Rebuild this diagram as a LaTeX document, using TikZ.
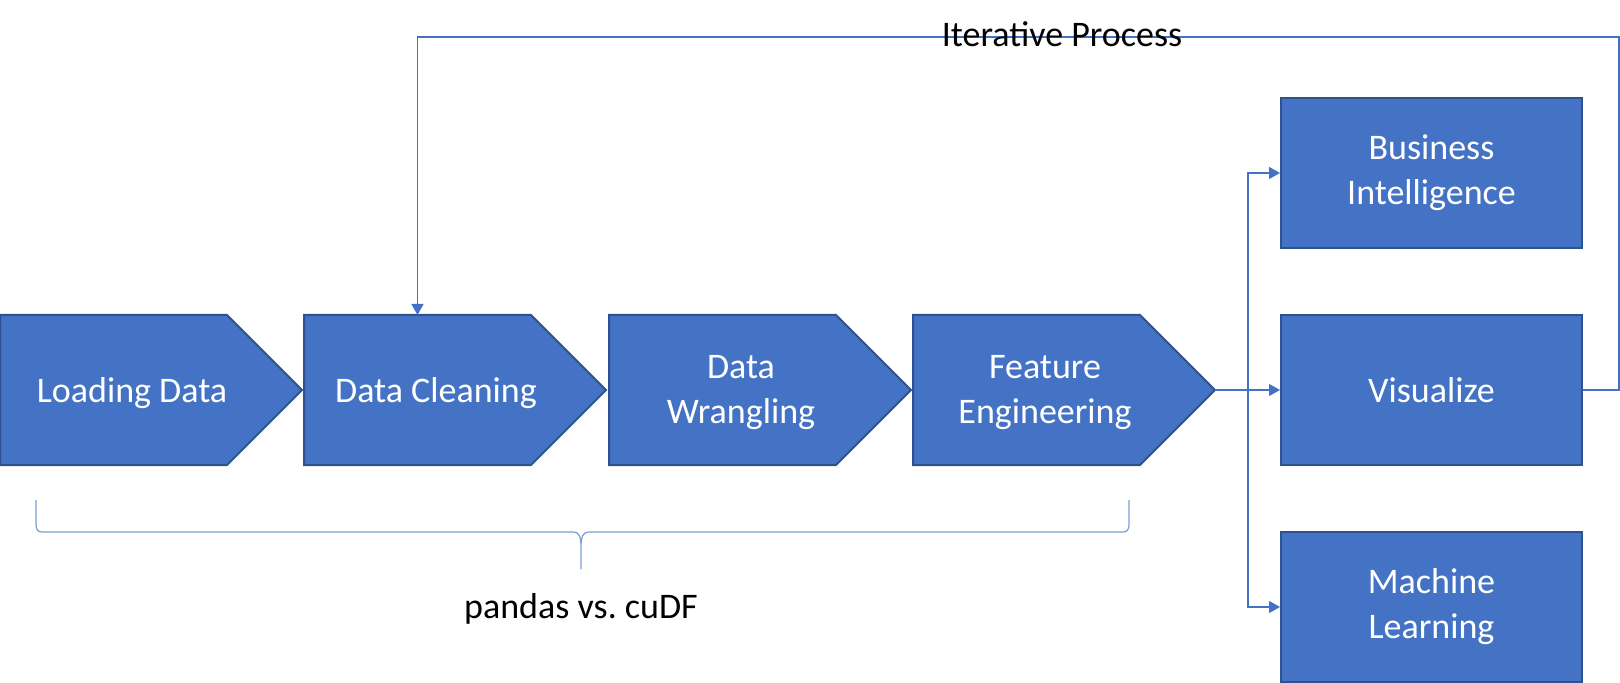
\documentclass[tikz,border=0pt]{standalone}
\usepackage{fontspec}
\setmainfont{Carlito}
\usepackage{xcolor}
\usepackage{tikz}
\usetikzlibrary{arrows.meta}
\definecolor{boxblue}{HTML}{4472C4}
\definecolor{edgeblue}{HTML}{2F528F}

\begin{document}
\begin{tikzpicture}[x=0.5pt,y=-0.5pt,
  stage/.style={fill=boxblue,draw=edgeblue,line width=1pt},
  stagetext/.style={text=white,align=center,font=\fontsize{18}{22.5}\selectfont},
  result/.style={stage,stagetext,minimum width=150.5pt,minimum height=75pt,inner sep=0pt},
  flow/.style={draw=boxblue,line width=0.6pt,-{Triangle[length=5.5pt,width=6pt]}},
  braceline/.style={draw=boxblue!70,line width=0.6pt,line join=round},
  caption/.style={font=\fontsize{18}{22.5}\selectfont}]
  \useasboundingbox (0,0) rectangle (1620,683);

  % Stages
  \foreach \x/\name/\txt in {0/ld/Loading Data,304/dc/Data Cleaning,609/dw/Data\\Wrangling,913/fe/Feature\\Engineering} {
    \draw[stage] (\x,315) -- ++(227,0) -- ++(75,75) -- ++(-75,75) -- ++(-227,0) -- cycle;
    \node[stagetext] (\name) at (\x+132,393) {\txt};
    \coordinate (\name-top) at (\x+113.5,315);
    \coordinate (\name-tip) at (\x+302,390);
  }

  % Outputs
  \node[result] (bi) at (1431.5,173) {Business\\Intelligence};
  \node[result] (vis) at (1431.5,390) {Visualize};
  \node[result] (ml) at (1431.5,607) {Machine\\Learning};

  \coordinate (split) at (1248,390);
  \draw[flow] (fe-tip) -- (vis.west);
  \draw[flow] (split) |- (bi.west);
  \draw[flow] (split) |- (ml.west);

  % Loop back
  \coordinate (loop) at (1619,37);
  \draw[flow] (vis.east) -| (loop) -| (dc-top);
  \node[caption,anchor=base] (iter) at (1062,47) {Iterative Process};

  % Brace
  \coordinate (br-l) at (36,500);
  \coordinate (br-m) at (581,569);
  \coordinate (br-r) at (1129,500);
  \draw[braceline] (br-l) -- (36,524) .. controls (36,530) and (38,532) .. (42,532)
    -- (573,532) .. controls (579,532) and (581,536) .. (581,548) -- (br-m)
    -- (581,548) .. controls (581,536) and (583,532) .. (589,532)
    -- (1123,532) .. controls (1127,532) and (1129,530) .. (1129,524) -- (br-r);
  \node[caption,anchor=base] (tools) at (581,618) {pandas vs.\ cuDF};
\end{tikzpicture}
\end{document}
